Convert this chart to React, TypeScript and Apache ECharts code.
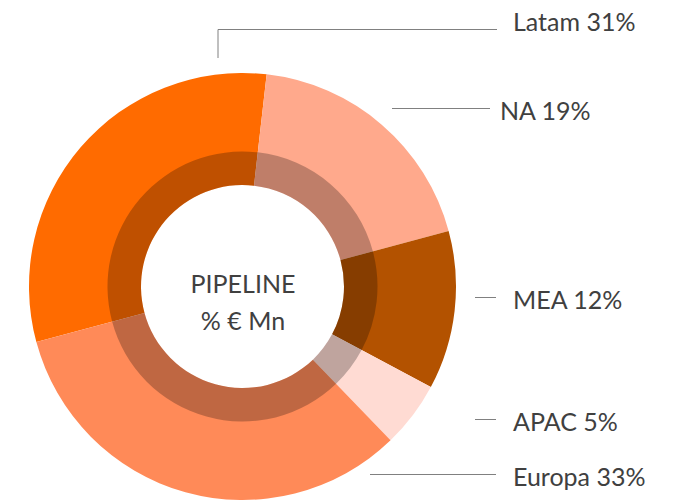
import React, { useEffect, useRef } from "react";
import * as echarts from "echarts";

const regions = ["Latam", "NA", "MEA", "APAC", "Europa"];
const shares = [31, 19, 12, 5, 33];
const sliceColors = ["#FF6B00", "#FFA98C", "#B35200", "#FFDBD3", "#FF8A58"];
const centerTitle = "PIPELINE\n% € Mn";

// label placement (annotation layout, not data)
const labelPlacement = [
  { x: 513, y: 21, line: [[218, 58], [218, 29.5], [497, 29.5]] },
  { x: 500, y: 110, line: [[392, 108.5], [440, 108.5], [490, 108.5]] },
  { x: 513, y: 299, line: [[475, 297.5], [485, 297.5], [496, 297.5]] },
  { x: 513, y: 421, line: [[475, 419.5], [485, 419.5], [496, 419.5]] },
  { x: 513, y: 476, line: [[370, 474.5], [430, 474.5], [496, 474.5]] },
];

export default function App() {
  const ref = useRef<HTMLDivElement>(null);
  useEffect(() => {
    if (!ref.current) return;
    const chart = echarts.init(ref.current, null, { renderer: "svg" });
    const data = regions.map((r, i) => ({
      name: r,
      value: shares[i],
      itemStyle: { color: sliceColors[i] },
    }));
    chart.setOption({
      animation: false,
      backgroundColor: "#ffffff",
      title: {
        text: centerTitle,
        left: 238,
        top: 259,
        textAlign: "center",
        textStyle: {
          fontFamily: "Lato",
          fontSize: 25,
          fontWeight: "normal",
          color: "#404040",
          lineHeight: 37,
        },
      },
      series: [
        {
          type: "pie",
          center: [242.5, 286.5],
          radius: [101.5, 213.5],
          startAngle: 195.1,
          clockwise: true,
          avoidLabelOverlap: false,
          data,
          label: {
            show: true,
            formatter: "{b} {c}%",
            fontFamily: "Lato",
            fontSize: 25,
            color: "#404040",
          },
          labelLine: {
            show: true,
            lineStyle: { color: "#808080", width: 1 },
          },
          labelLayout: (params: any) => {
            const p = labelPlacement[params.dataIndex];
            return {
              x: p.x,
              y: p.y,
              align: "left",
              verticalAlign: "middle",
              labelLinePoints: p.line,
            };
          },
          emphasis: { disabled: true },
          itemStyle: { borderWidth: 0 },
        },
        {
          type: "pie",
          center: [242.5, 286.5],
          radius: [101.5, 135],
          startAngle: 195.1,
          clockwise: true,
          silent: true,
          data: regions.map((r, i) => ({
            name: r,
            value: shares[i],
            itemStyle: { color: "rgba(0,0,0,0.25)" },
          })),
          label: { show: false },
          labelLine: { show: false },
          emphasis: { disabled: true },
          itemStyle: { borderWidth: 0 },
        },
      ],
    });
    return () => chart.dispose();
  }, []);
  return (
    <div
      ref={ref}
      style={{ position: "fixed", left: 0, top: 0, width: 688, height: 503 }}
    />
  );
}
